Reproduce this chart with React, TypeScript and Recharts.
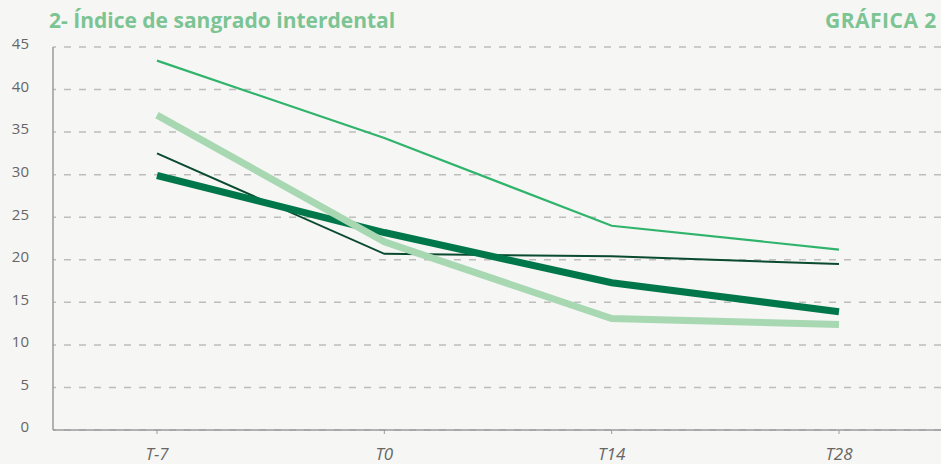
import React from 'react';
import { LineChart, Line, XAxis, YAxis, CartesianGrid } from 'recharts';

const categories = ['T-7', 'T0', 'T14', 'T28'];
const thinGreen = [43.4, 34.3, 24.0, 21.2];
const thinDark = [32.5, 20.7, 20.4, 19.5];
const thickDark = [29.9, 23.2, 17.3, 13.9];
const thickLight = [37.0, 22.1, 13.1, 12.4];
const yTicks = [0, 5, 10, 15, 20, 25, 30, 35, 40, 45];

const data = categories.map((t, i) => ({
  t,
  thinGreen: thinGreen[i],
  thinDark: thinDark[i],
  thickDark: thickDark[i],
  thickLight: thickLight[i],
}));

const AXIS = '#9b9ba0';
const FONT = '"Open Sans", "Noto Sans", sans-serif';

const App: React.FC = () => {
  return (
    <div style={{ position: 'absolute', left: 0, top: 0, width: 941, height: 464, background: '#f6f6f4', overflow: 'hidden', fontFamily: FONT }}>
      <div style={{ position: 'absolute', left: 49, top: 6, fontSize: 21, fontWeight: 700, color: '#7cc493', whiteSpace: 'nowrap' }}>
        2- Índice de sangrado interdental
      </div>
      <div style={{ position: 'absolute', left: 825, top: 6, fontSize: 21, fontWeight: 700, letterSpacing: 0.5, color: '#7cc493', whiteSpace: 'nowrap' }}>
        GRÁFICA 2
      </div>
      <LineChart width={941} height={464} data={data} margin={{ top: 47, right: 0, left: 0, bottom: 0 }}>
        <CartesianGrid vertical={false} stroke="#bdbdbd" strokeWidth={1.5} strokeDasharray="7 8" strokeDashoffset={4} />
        <XAxis
          dataKey="t"
          height={34}
          padding={{ left: 104, right: 102 }}
          axisLine={{ stroke: AXIS, strokeWidth: 1.5 }}
          tickLine={{ stroke: AXIS }}
          tickSize={4}
          tickMargin={14}
          tick={{ fill: '#666', fontSize: 17, fontStyle: 'italic', fontFamily: FONT }}
        />
        <YAxis
          width={53}
          domain={[0, 45]}
          ticks={yTicks}
          interval={0}
          axisLine={{ stroke: AXIS, strokeWidth: 1.5 }}
          tickLine={false}
          tickSize={6}
          tickMargin={18}
          tick={{ fill: '#666', fontSize: 15, fontFamily: FONT, dy: -3 }}
        />
        <Line dataKey="thinDark" stroke="#0a4a2f" strokeWidth={2} dot={false} isAnimationActive={false} />
        <Line dataKey="thickDark" stroke="#00774a" strokeWidth={7} dot={false} isAnimationActive={false} />
        <Line dataKey="thickLight" stroke="#a7d8b2" strokeWidth={7} dot={false} isAnimationActive={false} />
        <Line dataKey="thinGreen" stroke="#30b46c" strokeWidth={2.2} dot={false} isAnimationActive={false} />
      </LineChart>
    </div>
  );
};

export default App;
